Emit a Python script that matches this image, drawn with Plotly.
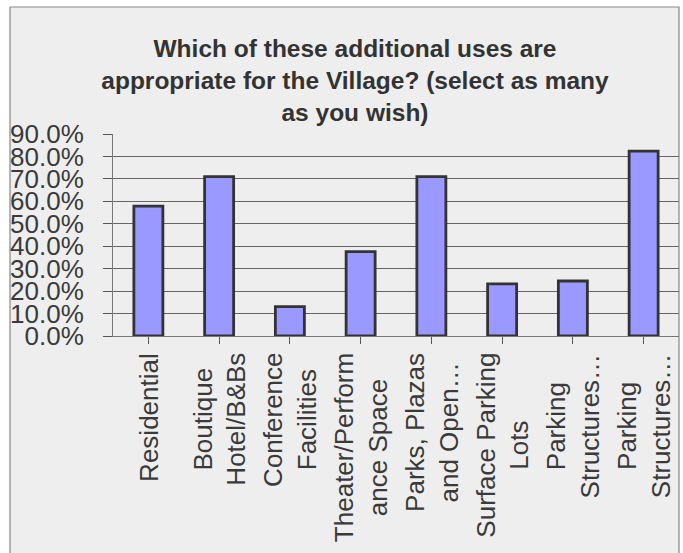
import plotly.graph_objects as go

categories = [
    "Residential",
    "Boutique<br>Hotel/B&Bs",
    "Conference<br>Facilities",
    "Theater/Perform<br>ance Space",
    "Parks, Plazas<br>and Open…",
    "Surface Parking<br>Lots",
    "Parking<br>Structures…",
    "Parking<br>Structures…",
]
values = [0.579, 0.710, 0.131, 0.376, 0.710, 0.232, 0.245, 0.824]
y_ticks = [0.0, 0.1, 0.2, 0.3, 0.4, 0.5, 0.6, 0.7, 0.8, 0.9]

positions = list(range(len(categories)))

W, H = 683, 553
ml, mr, mt, mb = 113, 4, 134, 217
pw = W - ml - mr
ph = H - mt - mb

fig = go.Figure()
fig.add_trace(go.Bar(
    x=positions,
    y=values,
    width=0.41,
    marker=dict(color="#9999FF", line=dict(color="#333333", width=2.8)),
))

# chart frame (light grey panel with grey border)
fig.add_shape(
    type="rect", xref="paper", yref="paper", layer="below",
    x0=(10 - ml) / pw, x1=1.0,
    y0=-(mb + 20) / ph, y1=(mt + ph - 7) / ph,
    line=dict(color="#888888", width=1.2),
    fillcolor="#EEEEEE",
)

# category labels, centred lines, rotated
for p, label in zip(positions, categories):
    fig.add_annotation(
        x=p, xref="x", y=-(351 - (mt + ph)) / ph, yref="paper",
        text=label, textangle=-90, showarrow=False,
        xanchor="center", yanchor="top", align="center",
        font=dict(family="Liberation Sans, Arial, sans-serif", size=26, color="#3a3a3a"),
    )

fig.update_layout(
    width=W, height=H,
    margin=dict(l=ml, r=mr, t=mt, b=mb),
    paper_bgcolor="white",
    plot_bgcolor="rgba(0,0,0,0)",
    showlegend=False,
    bargap=0.59,
    title=dict(
        text="Which of these additional uses are<br>appropriate for the Village? (select as many<br>as you wish)",
        x=355 / W, xanchor="center", xref="container",
        y=1 - 57 / H, yanchor="top", yref="container",
        font=dict(family="Liberation Sans, Arial, sans-serif", size=24.5, color="#333333", weight="bold"),
    ),
    font=dict(family="Liberation Sans, Arial, sans-serif", color="#3a3a3a"),
)

fig.update_xaxes(
    range=[-0.5, len(categories) - 0.5],
    tickmode="array", tickvals=positions, ticktext=[""] * len(positions),
    tickson="boundaries",
    ticks="outside", ticklen=7, tickcolor="#555555", tickwidth=1,
    showline=True, linecolor="#777777", linewidth=1,
    showgrid=False,
)
fig.update_yaxes(
    range=[0, 0.9],
    tickmode="array", tickvals=y_ticks, tickformat=".1%",
    ticks="outside", ticklen=9, tickcolor="#555555", tickwidth=1,
    showline=True, linecolor="#777777", linewidth=1,
    showgrid=True, gridcolor="#666666", gridwidth=1,
    zeroline=False,
    tickfont=dict(size=26, color="#3a3a3a"),
    ticklabelstandoff=14,
)

fig.write_html("out.html")
